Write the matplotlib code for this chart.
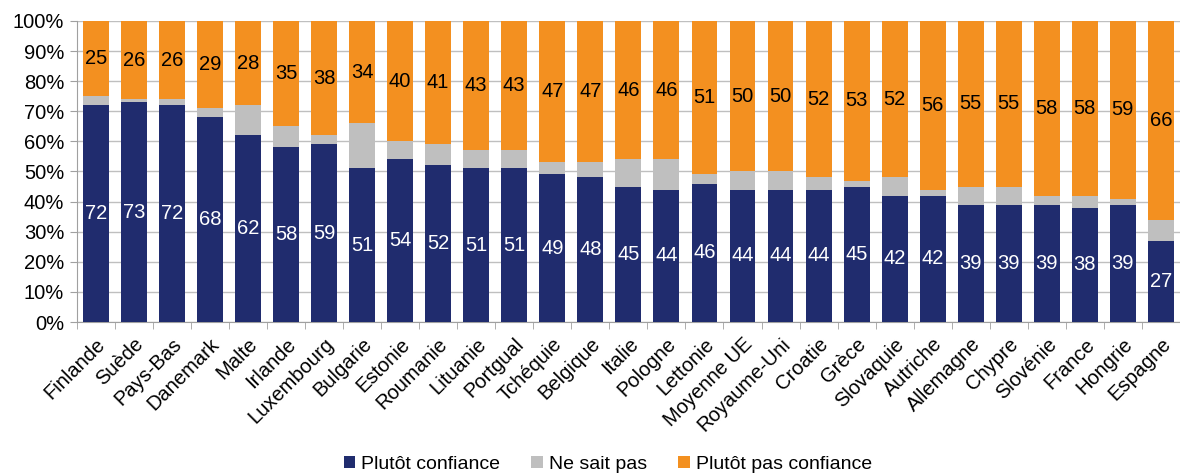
import matplotlib
matplotlib.use("Agg")
import matplotlib.pyplot as plt
import numpy as np

plt.rcParams['font.family'] = ['Liberation Sans', 'DejaVu Sans']

# Données
pays = ['Finlande', 'Suède', 'Pays-Bas', 'Danemark', 'Malte', 'Irlande', 'Luxembourg',
        'Bulgarie', 'Estonie', 'Roumanie', 'Lituanie', 'Portgual', 'Tchéquie', 'Belgique',
        'Italie', 'Pologne', 'Lettonie', 'Moyenne UE', 'Royaume-Uni', 'Croatie', 'Grèce',
        'Slovaquie', 'Autriche', 'Allemagne', 'Chypre', 'Slovénie', 'France', 'Hongrie',
        'Espagne']
confiance = [72, 73, 72, 68, 62, 58, 59, 51, 54, 52, 51, 51, 49, 48, 45, 44, 46, 44, 44,
             44, 45, 42, 42, 39, 39, 39, 38, 39, 27]
ne_sait_pas = [3, 1, 2, 3, 10, 7, 3, 15, 6, 7, 6, 6, 4, 5, 9, 10, 3, 6, 6, 4, 2, 6, 2, 6,
               6, 3, 4, 2, 7]
pas_confiance = [25, 26, 26, 29, 28, 35, 38, 34, 40, 41, 43, 43, 47, 47, 46, 46, 51, 50,
                 50, 52, 53, 52, 56, 55, 55, 58, 58, 59, 66]

navy = '#202C6E'
gris = '#BFBFBF'
orange = '#F39020'

fig = plt.figure(figsize=(11.8, 4.75), dpi=100)
ax = fig.add_axes([0.065, 0.322, 0.935, 0.634])

x = np.arange(len(pays))
conf = np.array(confiance)
nsp = np.array(ne_sait_pas)
pas = np.array(pas_confiance)

b1 = ax.bar(x, conf, width=0.68, color=navy, label='Plutôt confiance', zorder=3)
b2 = ax.bar(x, nsp, width=0.68, bottom=conf, color=gris, label='Ne sait pas', zorder=3)
b3 = ax.bar(x, pas, width=0.68, bottom=conf + nsp, color=orange,
            label='Plutôt pas confiance', zorder=3)

# étiquettes
for i in range(len(pays)):
    ax.text(x[i], conf[i] / 2, str(conf[i]), ha='center', va='center',
            color='white', fontsize=14.5, zorder=4)
    ax.text(x[i], conf[i] + nsp[i] + pas[i] / 2, str(pas[i]), ha='center',
            va='center', color='black', fontsize=14.5, zorder=4)

ax.set_xlim(-0.5, len(pays) - 0.5)
ax.set_ylim(0, 100)
ax.set_yticks(np.arange(0, 101, 10))
ax.set_yticklabels([f'{v}%' for v in range(0, 101, 10)], fontsize=14.5)
ax.yaxis.grid(True, color='#BFBFBF', linewidth=1, zorder=0)

ax.set_xticks(x)
ax.set_xticklabels(pays, rotation=45, ha='right', va='top', rotation_mode='anchor',
                   fontsize=14.5)
ax.tick_params(axis='x', which='major', length=0, pad=9)
ax.set_xticks(np.arange(-0.5, len(pays), 1), minor=True)
ax.tick_params(axis='x', which='minor', length=5, color='#A0A0A0')
ax.tick_params(axis='y', length=5, color='#A0A0A0', pad=4)

for s in ['top', 'right']:
    ax.spines[s].set_visible(False)
for s in ['left', 'bottom']:
    ax.spines[s].set_color('#A0A0A0')

fig.legend(handles=[b1, b2, b3], loc='lower center', ncol=3, frameon=False,
           fontsize=14, handlelength=0.6, handleheight=0.6, handletextpad=0.3,
           columnspacing=1.6, bbox_to_anchor=(0.515, -0.032))

fig.savefig('out.png', dpi=100)
